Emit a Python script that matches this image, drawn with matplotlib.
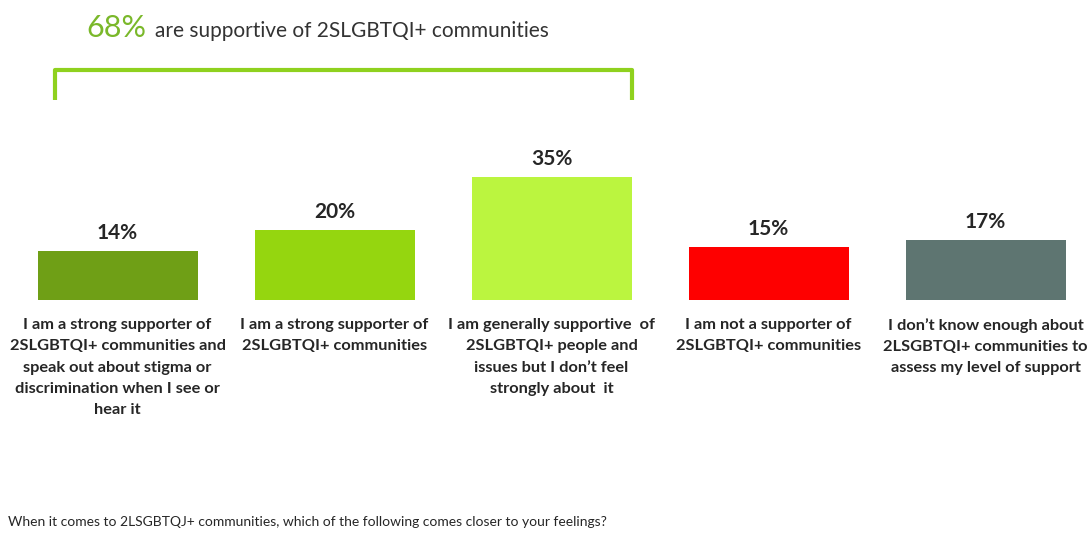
import matplotlib.pyplot as plt

# Data
categories = [
    "I am a strong supporter of\n2SLGBTQI+ communities and\nspeak out about stigma or\ndiscrimination when I see or\nhear it",
    "I am a strong supporter of\n2SLGBTQI+ communities",
    "I am generally supportive  of\n2SLGBTQI+ people and\nissues but I don\u2019t feel\nstrongly about  it",
    "I am not a supporter of\n2SLGBTQI+ communities",
    "I don\u2019t know enough about\n2LSGBTQI+ communities to\nassess my level of support",
]
values = [14, 20, 35, 15, 17]
colors = ["#6f9f16", "#95d60f", "#bbf53f", "#fe0000", "#5e7571"]
value_labels = ["14%", "20%", "35%", "15%", "17%"]

plt.rcParams['font.family'] = ['Lato', 'DejaVu Sans']

W, H = 1088, 533
fig = plt.figure(figsize=(W / 100, H / 100), dpi=100)

# axes spans the whole width; bars centred every 217 px starting at 117.5 px
ax = fig.add_axes([0, 1 - 300 / H, 1, 200 / H])
x = list(range(len(values)))
ax.bar(x, values, width=160 / 217, color=colors)
ax.set_xlim(-117.5 / 217, (W - 117.5) / 217)
ax.set_ylim(0, 200 / 3.51)
ax.axis('off')

for xi, v, lab in zip(x, values, value_labels):
    ax.annotate(lab, xy=(xi, v), xytext=(0, 8), textcoords='offset pixels',
                ha='center', va='bottom', fontsize=15,
                fontweight='bold', color='#262626')

for xi, cat in zip(x, categories):
    ax.annotate(cat, xy=(xi, 0), xytext=(0, -18), textcoords='offset pixels',
                ha='center', va='top', fontsize=11.8, fontweight='bold',
                color='#262626', linespacing=1.66)

# headline
fig.text(86 / W, 1 - 37 / H, "68%", fontsize=22, color='#7ab82a', va='baseline')
fig.text(155 / W, 1 - 37 / H, "are supportive of 2SLGBTQI+ communities",
         fontsize=15, color='#333333', va='baseline')

# bracket
bx0, bx1, by0, by1 = 55 / W, 632 / W, 1 - 70 / H, 1 - 100 / H
fig.add_artist(plt.Line2D([bx0, bx0, bx1, bx1], [by1, by0, by0, by1],
                          color='#8fd11e', linewidth=3,
                          solid_joinstyle='round', solid_capstyle='butt'))

# footnote
fig.text(8 / W, 1 - 522 / H,
         "When it comes to 2LSGBTQJ+ communities, which of the following comes closer to your feelings?",
         fontsize=10, color='#262626', va='center')

fig.savefig('out.png', dpi=100)
